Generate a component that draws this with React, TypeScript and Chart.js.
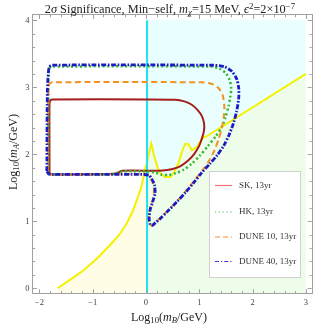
import React, { useEffect, useRef } from "react";
import { Chart, registerables } from "chart.js";

Chart.register(...registerables);

// ---------- axis ranges & ticks ----------
const X_MIN = -2.12;
const X_MAX = 3.11;
const Y_MIN = -0.075;
const Y_MAX = 4.08;
const xTickValues = [-2, -1, 0, 1, 2, 3];
const yTickValues = [0, 1, 2, 3, 4];
const minorStep = 0.2;

// ---------- boundary (yellow) curve ----------
const boundaryLeftX = [-1.66, -1.4, -1.17, -0.9, -0.67, -0.5, -0.36, -0.25, -0.17, -0.1, -0.05, -0.01, 0.02];
const boundaryLeftY = [0.0, 0.14, 0.27, 0.46, 0.65, 0.8, 0.97, 1.15, 1.32, 1.48, 1.64, 1.8, 1.88];
const boundaryRightX = [0.02, 0.06, 0.1, 0.15, 0.21, 0.28, 0.36, 0.46, 0.54, 0.61, 0.68, 0.74, 0.8, 0.86, 0.96, 1.05, 1.14, 1.52, 3.0];
const boundaryRightY = [1.88, 2.03, 2.16, 1.99, 1.82, 1.7, 1.66, 1.66, 1.75, 1.87, 2.05, 2.16, 2.15, 2.06, 2.11, 2.24, 2.27, 2.46, 3.2];

// vertical cyan line (log10 mB)
const verticalLineX = 0.02;
const verticalLineY = [Y_MIN, 4.0];
const shadeTop = 4.0;

// ---------- sensitivity contours ----------
const skX = [-1.81, -1.81, -1.79, -1.75, 0.0, 0.55, 0.72, 0.86, 0.97, 1.05, 1.09, 1.09, 1.06, 1.0, 0.9, 0.78, 0.64, 0.5, 0.4, 0.25, -0.45, -0.52, -0.6, -1.75, -1.8, -1.81];
const skY = [1.74, 2.76, 2.81, 2.82, 2.82, 2.815, 2.79, 2.74, 2.66, 2.57, 2.46, 2.36, 2.26, 2.13, 2.0, 1.9, 1.82, 1.78, 1.765, 1.755, 1.755, 1.73, 1.71, 1.7, 1.71, 1.74];

const hkX = [-1.83, -1.83, -1.81, -1.76, 1.2, 1.38, 1.5, 1.57, 1.6, 1.58, 1.55, 1.49, 1.43, 1.31, 1.16, 1.01, 0.86, 0.71, 0.56, 0.42, 0.28, 0.16, 0.02, -0.45, -0.55, -0.65, -1.76, -1.82, -1.83];
const hkY = [1.74, 3.22, 3.29, 3.31, 3.31, 3.28, 3.21, 3.11, 2.98, 2.85, 2.72, 2.55, 2.42, 2.27, 2.12, 1.98, 1.86, 1.77, 1.72, 1.69, 1.7, 1.73, 1.745, 1.745, 1.72, 1.7, 1.7, 1.71, 1.74];

const dune10X = [-1.84, -1.83, -1.81, -1.76, 1.05, 1.24, 1.36, 1.44, 1.47, 1.46, 1.42, 1.36, 1.28, 1.18, 1.06, 0.92, 0.78, 0.62, 0.46, 0.31, 0.19, 0.11, 0.06, 0.05, 0.08, 0.13, 0.15, 0.12, 0.06, 0.0, -1.76, -1.82, -1.84];
const dune10Y = [1.74, 2.98, 3.05, 3.075, 3.075, 3.05, 2.99, 2.88, 2.72, 2.56, 2.38, 2.22, 2.05, 1.9, 1.76, 1.62, 1.48, 1.33, 1.2, 1.08, 0.99, 0.94, 0.96, 1.07, 1.2, 1.33, 1.47, 1.59, 1.67, 1.7, 1.7, 1.71, 1.74];

const dune40X = [-1.86, -1.85, -1.82, -1.77, 1.25, 1.46, 1.61, 1.7, 1.74, 1.74, 1.7, 1.64, 1.56, 1.46, 1.34, 1.2, 1.04, 0.89, 0.74, 0.58, 0.42, 0.28, 0.18, 0.12, 0.08, 0.06, 0.08, 0.13, 0.17, 0.16, 0.11, 0.05, -0.2, -1.77, -1.83, -1.86];
const dune40Y = [1.75, 2.95, 3.29, 3.33, 3.33, 3.31, 3.24, 3.13, 2.99, 2.83, 2.64, 2.46, 2.29, 2.13, 1.99, 1.86, 1.72, 1.57, 1.43, 1.29, 1.16, 1.05, 0.98, 0.94, 0.95, 1.05, 1.18, 1.3, 1.42, 1.54, 1.63, 1.69, 1.7, 1.7, 1.71, 1.75];

const legendLabels = ["SK, 13yr", "HK, 13yr", "DUNE 10, 13yr", "DUNE 40, 13yr"];

// ---------- helpers ----------
const pts = (xs: number[], ys: number[]) => xs.map((x, i) => ({ x, y: ys[i] }));
const fmt = (v: number) => (v < 0 ? "\u2212" + Math.abs(v) : String(v));
const SERIF = '"Liberation Serif", "DejaVu Serif", serif';

const legendStyles = [
  { color: "#f07070", dash: [] as number[], width: 1.2 },
  { color: "#55c055", dash: [1.2, 2.6], width: 1.2 },
  { color: "#fbb57a", dash: [5, 3], width: 1.5 },
  { color: "#3a3ae6", dash: [4, 2, 1.2, 2], width: 1.2 },
];

const framePlugin = {
  id: "mmaFrame",
  afterDatasetsDraw(chart: any) {
    const { ctx, chartArea: a, scales } = chart;
    const sx = scales.x;
    const sy = scales.y;
    ctx.save();
    ctx.strokeStyle = "#a0a0a0";
    ctx.lineWidth = 1;
    ctx.strokeRect(Math.round(a.left) - 0.5, Math.round(a.top) - 0.5, Math.round(a.right - a.left) + 1, Math.round(a.bottom - a.top) + 1);
    ctx.beginPath();
    const major = 4;
    const minor = 2.2;
    for (let v = Math.ceil(X_MIN / minorStep) * minorStep; v <= X_MAX + 1e-9; v += minorStep) {
      const isMajor = Math.abs(v - Math.round(v)) < 1e-6;
      const len = isMajor ? major : minor;
      const px = Math.round(sx.getPixelForValue(v)) + 0.5;
      ctx.moveTo(px, a.bottom);
      ctx.lineTo(px, a.bottom - len);
      ctx.moveTo(px, a.top);
      ctx.lineTo(px, a.top + len);
    }
    for (let v = Math.ceil(Y_MIN / minorStep) * minorStep; v <= Y_MAX + 1e-9; v += minorStep) {
      const isMajor = Math.abs(v - Math.round(v)) < 1e-6;
      const len = isMajor ? major : minor;
      const py = Math.round(sy.getPixelForValue(v)) + 0.5;
      ctx.moveTo(a.left, py);
      ctx.lineTo(a.left + len, py);
      ctx.moveTo(a.right, py);
      ctx.lineTo(a.right - len, py);
    }
    ctx.stroke();
    ctx.restore();
  },
  afterDraw(chart: any) {
    const { ctx } = chart;
    ctx.save();
    const bx = 209.5, by = 171.5, bw = 91, bh = 106;
    ctx.fillStyle = "#ffffff";
    ctx.fillRect(bx, by, bw, bh);
    ctx.strokeStyle = "#d0d0d0";
    ctx.lineWidth = 1;
    ctx.strokeRect(bx, by, bw, bh);
    const rowY = [185, 211.5, 236.5, 261];
    legendLabels.forEach((label, i) => {
      const st = legendStyles[i];
      ctx.beginPath();
      ctx.strokeStyle = st.color;
      ctx.lineWidth = st.width;
      ctx.setLineDash(st.dash);
      ctx.moveTo(215, rowY[i] + 0.5);
      ctx.lineTo(232, rowY[i] + 0.5);
      ctx.stroke();
      ctx.setLineDash([]);
      ctx.fillStyle = "#333";
      ctx.font = `9px ${SERIF}`;
      ctx.textBaseline = "middle";
      ctx.textAlign = "left";
      ctx.fillText(label, 239, rowY[i] + 0.5);
    });
    ctx.restore();
  },
};

const sub: React.CSSProperties = { fontSize: "0.72em", verticalAlign: "-0.28em", lineHeight: 0 };
const sup: React.CSSProperties = { fontSize: "0.72em", verticalAlign: "0.5em", lineHeight: 0 };

export default function App() {
  const ref = useRef<HTMLCanvasElement>(null);

  useEffect(() => {
    const left = pts(boundaryLeftX, boundaryLeftY);
    const right = pts(boundaryRightX, boundaryRightY);
    const base = { pointRadius: 0, pointHoverRadius: 0, tension: 0 };
    const contour = { pointRadius: 0, pointHoverRadius: 0, tension: 0.25, fill: false, borderCapStyle: "butt" as const };
    const chart = new Chart(ref.current as HTMLCanvasElement, {
      type: "line",
      data: {
        datasets: [
          { ...base, label: "fill-left", data: left, borderWidth: 0, backgroundColor: "#fffde6", fill: "start", order: 20 },
          { ...base, label: "fill-below", data: right, borderWidth: 0, backgroundColor: "#edfdea", fill: "start", order: 20 },
          { ...base, label: "fill-above", data: right, borderWidth: 0, backgroundColor: "#e9fefe", fill: { value: shadeTop }, order: 20 },
          { ...base, label: "boundary", data: [...left, ...right.slice(1)], borderColor: "#f6f000", borderWidth: 2, fill: false, order: 15 },
          { ...base, label: "mB line", data: pts([verticalLineX, verticalLineX], verticalLineY), borderColor: "#1ee2f4", borderWidth: 2, fill: false, order: 14 },
          { ...contour, label: legendLabels[0], data: pts(skX, skY), borderColor: "#a51d1d", borderWidth: 2, order: 4 },
          { ...contour, label: legendLabels[1], data: pts(hkX, hkY), borderColor: "#2fb82f", borderWidth: 2.5, borderDash: [2, 2.5], order: 3 },
          { ...contour, label: legendLabels[2], data: pts(dune10X, dune10Y), borderColor: "#f5911f", borderWidth: 2, borderDash: [6, 3.5], order: 2 },
          { ...contour, label: legendLabels[3], data: pts(dune40X, dune40Y), borderColor: "#1c1cc4", borderWidth: 2.8, borderDash: [5, 1.6, 1.6, 1.6], order: 1 },
        ],
      },
      options: {
        animation: false,
        responsive: false,
        maintainAspectRatio: false,
        devicePixelRatio: 1,
        events: [],
        layout: { padding: { left: 0, top: 15, right: 20.3, bottom: 0 } },
        plugins: { legend: { display: false }, tooltip: { enabled: false }, title: { display: false } },
        scales: {
          x: {
            type: "linear",
            min: X_MIN,
            max: X_MAX,
            grid: { display: false, drawTicks: false },
            border: { display: false },
            afterBuildTicks: (s: any) => {
              s.ticks = xTickValues.map((value) => ({ value }));
            },
            afterFit: (s: any) => {
              s.height = 38.7;
            },
            ticks: {
              autoSkip: false,
              maxRotation: 0,
              padding: 4,
              color: "#444",
              font: { family: SERIF, size: 8.5 },
              callback: (v: any) => fmt(Number(v)),
            },
          },
          y: {
            type: "linear",
            min: Y_MIN,
            max: Y_MAX,
            grid: { display: false, drawTicks: false },
            border: { display: false },
            afterBuildTicks: (s: any) => {
              s.ticks = yTickValues.map((value) => ({ value }));
            },
            afterFit: (s: any) => {
              s.width = 33;
            },
            ticks: {
              autoSkip: false,
              padding: 3.5,
              color: "#444",
              font: { family: SERIF, size: 8.5 },
              callback: (v: any) => fmt(Number(v)),
            },
          },
        },
      },
      plugins: [framePlugin],
    });
    return () => chart.destroy();
  }, []);

  return (
    <div style={{ position: "fixed", left: 0, top: 0, width: 332, height: 332, background: "#fff", fontFamily: SERIF, color: "#222" }}>
      <canvas ref={ref} width={332} height={332} style={{ position: "absolute", left: 0, top: 0, width: 332, height: 332 }} />
      <div style={{ position: "absolute", left: 4, top: 3, width: 332, textAlign: "center", fontSize: 12.3, lineHeight: "13px", whiteSpace: "nowrap" }}>
        2<i>σ</i> Significance, Min−self, <i>m</i><span style={sub}><i>χ</i></span>=15 MeV, <i>ϵ</i><span style={sup}>2</span>=2×10<span style={sup}>−7</span>
      </div>
      <div style={{ position: "absolute", left: 131, top: 310, fontSize: 12, lineHeight: "14px", whiteSpace: "nowrap" }}>
        Log<span style={sub}>10</span>(<i>m</i><span style={sub}><i>B</i></span>/GeV)
      </div>
      <div
        style={{
          position: "absolute",
          left: 12.5,
          top: 152,
          transform: "translate(-50%, -50%) rotate(-90deg)",
          fontSize: 12,
          lineHeight: "14px",
          whiteSpace: "nowrap",
        }}
      >
        Log<span style={sub}>10</span>(<i>m</i><span style={sub}><i>A</i></span>/GeV)
      </div>
    </div>
  );
}
